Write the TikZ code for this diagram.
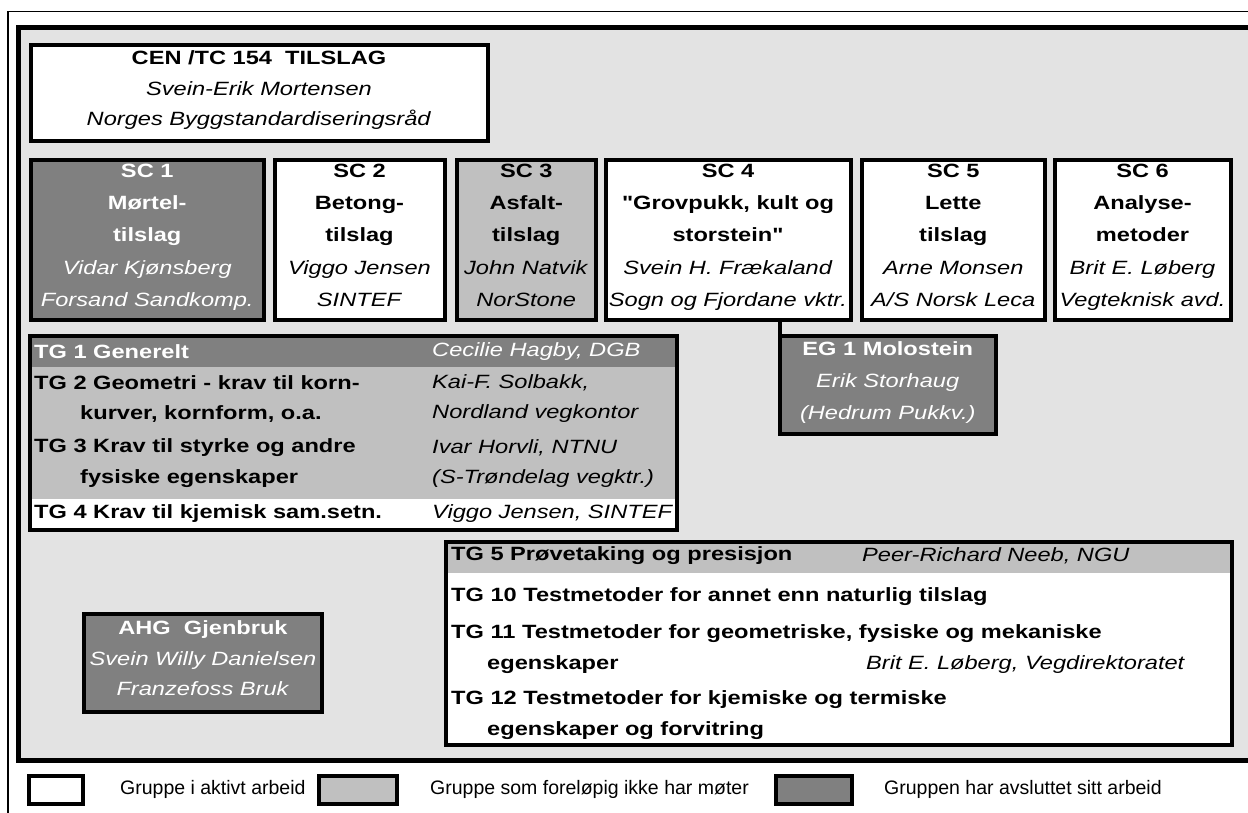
\documentclass[tikz,border=0pt]{standalone}
\usepackage{fontspec}
\setmainfont{Liberation Sans}[FakeStretch=1.23, Ligatures=TeXOff]
\newfontfamily\legendfont{Liberation Sans}
\usepackage{xcolor}
\usepackage{tikz}
\usetikzlibrary{positioning}
\definecolor{panelgrey}{RGB}{227,227,227}
\definecolor{pausedgrey}{RGB}{192,192,192}
\definecolor{closedgrey}{RGB}{128,128,128}
\tikzset{
  orgbox/.style={draw, line width=4pt, inner sep=0pt, outer sep=0pt, align=center, font=\fontsize{19.2}{32.3}\selectfont,
    execute at begin node={\rule{0pt}{29pt}}, execute at end node={\rule[-9.5pt]{0pt}{0pt}}},
  activebox/.style={orgbox, fill=white},
  pausedbox/.style={orgbox, fill=pausedgrey},
  closedbox/.style={orgbox, fill=closedgrey, text=white},
  tgframe/.style={draw, line width=4pt, inner sep=0pt, outer sep=0pt},
  tgtext/.style={anchor=west, inner sep=0pt, font=\fontsize{19.2}{24}\selectfont\bfseries},
  tgname/.style={anchor=west, inner sep=0pt, font=\fontsize{19.2}{24}\selectfont\itshape},
  legendbox/.style={draw, line width=4pt, inner sep=0pt, minimum height=28},
  legendtext/.style={anchor=west, inner sep=0pt, font=\legendfont\fontsize{19.5}{22}\selectfont}
}
\begin{document}
\begin{tikzpicture}[x=1pt,y=-1pt]
\useasboundingbox (0,0) rectangle (1248,813);
\clip (0,0) rectangle (1248,813);
% frames
\draw[line width=1.5pt] (8,830) -- (8,11.5) -- (1260,11.5);
\draw[fill=panelgrey, line width=4.5pt] (18.5,27.5) rectangle (1270,760.5);
% committee
\node[activebox, minimum width=457, minimum height=96.5, font=\fontsize{19.2}{30.5}\selectfont] (cen) at (259,93.25)
  {\textbf{CEN /TC 154\ \ TILSLAG}\\\textit{Svein-Erik Mortensen}\\\textit{Norges Byggstandardiseringsråd}};
% subcommittees
\node[closedbox, minimum width=233.5, minimum height=160] (sc1) at (147.25,240)
  {\textbf{SC 1}\\\textbf{Mørtel-}\\\textbf{tilslag}\\\textit{Vidar Kjønsberg}\\\textit{Forsand Sandkomp.}};
\node[activebox, minimum width=170, minimum height=160] (sc2) at (359.5,240)
  {\textbf{SC 2}\\\textbf{Betong-}\\\textbf{tilslag}\\\textit{Viggo Jensen}\\\textit{SINTEF}};
\node[pausedbox, minimum width=138.5, minimum height=160] (sc3) at (526.25,240)
  {\textbf{SC 3}\\\textbf{Asfalt-}\\\textbf{tilslag}\\\textit{John Natvik}\\\textit{NorStone}};
\node[activebox, minimum width=245, minimum height=160] (sc4) at (728,240)
  {\textbf{SC 4}\\\textbf{"Grovpukk, kult og}\\\textbf{storstein"}\\\textit{Svein H. Frækaland}\\\textit{Sogn og Fjordane vktr.}};
\node[activebox, minimum width=182.5, minimum height=160] (sc5) at (953.25,240)
  {\textbf{SC 5}\\\textbf{Lette}\\\textbf{tilslag}\\\textit{Arne Monsen}\\\textit{A/S Norsk Leca}};
\node[activebox, minimum width=176, minimum height=160] (sc6) at (1142.5,240)
  {\textbf{SC 6}\\\textbf{Analyse-}\\\textbf{metoder}\\\textit{Brit E. Løberg}\\\textit{Vegteknisk avd.}};
% task groups, left table
\fill[closedgrey] (30,335.5) rectangle (677,367);
\fill[pausedgrey] (30,367) rectangle (677,499);
\fill[white] (30,499) rectangle (677,529.5);
\node[tgframe, minimum width=647, minimum height=194] (tgleft) at (353.5,432.5) {};
\node[tgtext, text=white] (tg1) at (34,352) {TG 1 Generelt};
\node[tgname, text=white] (tg1name) at (432,352) {Cecilie Hagby, DGB};
\node[tgtext] (tg2) at (34,383) {TG 2 Geometri - krav til korn-};
\node[tgtext] (tg2b) at (80,414) {kurver, kornform, o.a.};
\node[tgname] (tg2name) at (432,383) {Kai-F. Solbakk,};
\node[tgname] (tg2nameb) at (432,414) {Nordland vegkontor};
\node[tgtext] (tg3) at (34,448) {TG 3 Krav til styrke og andre};
\node[tgtext] (tg3b) at (80,479) {fysiske egenskaper};
\node[tgname] (tg3name) at (432,448) {Ivar Horvli, NTNU};
\node[tgname] (tg3nameb) at (432,479) {(S-Trøndelag vegktr.)};
\node[tgtext] (tg4) at (34,514) {TG 4 Krav til kjemisk sam.setn.};
\node[tgname] (tg4name) at (432,514) {Viggo Jensen, SINTEF};
% expert group
\node[closedbox, minimum width=216.5, minimum height=98, font=\fontsize{19.2}{32}\selectfont] (eg1) at (887.75,385)
  {\textbf{EG 1 Molostein}\\\textit{Erik Storhaug}\\\textit{(Hedrum Pukkv.)}};
\draw[line width=4pt] (eg1.north west |- sc4.south) -- (eg1.north west);
% ad hoc group
\node[closedbox, minimum width=238, minimum height=98, font=\fontsize{19.2}{30.5}\selectfont] (ahg) at (203,663)
  {\textbf{AHG\ \ Gjenbruk}\\\textit{Svein Willy Danielsen}\\\textit{Franzefoss Bruk}};
% task groups, right table
\fill[pausedgrey] (446,542) rectangle (1232,573);
\fill[white] (446,573) rectangle (1232,745);
\node[tgframe, minimum width=786, minimum height=203] (tgright) at (839,643.5) {};
\node[tgtext] (tg5) at (451,556) {TG 5 Prøvetaking og presisjon};
\node[tgname] (tg5name) at (862,556) {Peer-Richard Neeb, NGU};
\node[tgtext] (tg10) at (451,597) {TG 10 Testmetoder for annet enn naturlig tilslag};
\node[tgtext] (tg11) at (451,634) {TG 11 Testmetoder for geometriske, fysiske og mekaniske};
\node[tgtext] (tg11b) at (487,665) {egenskaper};
\node[tgname] (tg11name) at (866,665) {Brit E. Løberg, Vegdirektoratet};
\node[tgtext] (tg12) at (451,700) {TG 12 Testmetoder for kjemiske og termiske};
\node[tgtext] (tg12b) at (487,731) {egenskaper og forvitring};
% legend
\node[legendbox, fill=white, minimum width=54] (keyactive) at (56,789.5) {};
\node[legendtext] (keyactivetext) at (120,789) {Gruppe i aktivt arbeid};
\node[legendbox, fill=pausedgrey, minimum width=78] (keypaused) at (358,789.5) {};
\node[legendtext] (keypausedtext) at (430,789) {Gruppe som foreløpig ikke har møter};
\node[legendbox, fill=closedgrey, minimum width=76] (keyclosed) at (814,789.5) {};
\node[legendtext] (keyclosedtext) at (884,789) {Gruppen har avsluttet sitt arbeid};
\end{tikzpicture}
\end{document}
